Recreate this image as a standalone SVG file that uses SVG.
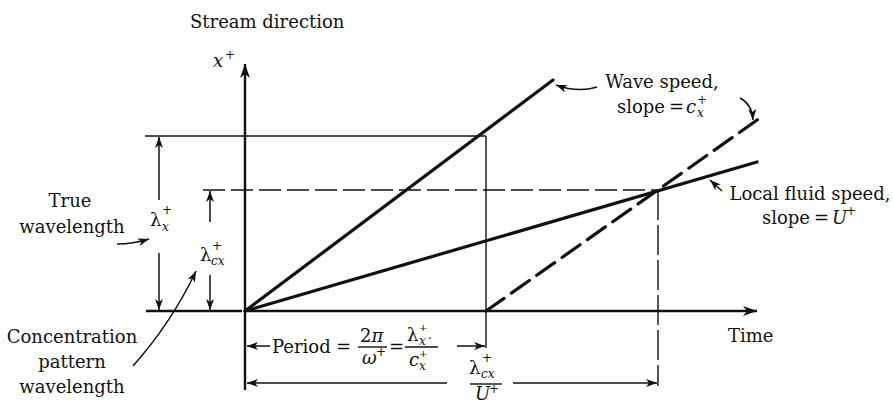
<svg xmlns="http://www.w3.org/2000/svg" width="893" height="400" viewBox="0 0 893 400">
<style>
text{font-family:"DejaVu Serif","Liberation Serif",serif;font-size:18px;fill:#111}
.it{font-style:italic}
.sm{font-size:12px}
.xs{font-size:10px}
.thick{stroke:#111;stroke-width:3.2;fill:none;stroke-linecap:round}
.axis{stroke:#111;stroke-width:2.4;fill:none}
.thin{stroke:#111;stroke-width:1.4;fill:none}
.dim{stroke:#111;stroke-width:1.5;fill:none;marker-end:url(#ah)}
.ptr{stroke:#111;stroke-width:1.5;fill:none;marker-end:url(#ah)}
</style>
<defs>
<marker id="ah" markerUnits="userSpaceOnUse" markerWidth="12" markerHeight="10" refX="11" refY="4" orient="auto">
<path d="M0,0 L11,4 L0,8 L3,4 Z" fill="#111"/>
</marker>
<marker id="axh" markerUnits="userSpaceOnUse" markerWidth="16" markerHeight="12" refX="14" refY="5" orient="auto">
<path d="M0,0 L14,5 L0,10 L4,5 Z" fill="#111"/>
</marker>
</defs>

<g id="axes">
<line x1="245" y1="390" x2="245" y2="64" class="axis" marker-end="url(#axh)"/>
<line x1="146" y1="311" x2="242" y2="311" class="axis" stroke-width="3"/>
<line x1="245" y1="311" x2="757" y2="311" class="axis" marker-end="url(#axh)"/>
</g>

<g id="guides">
<line x1="145" y1="136" x2="486" y2="136" class="thin"/>
<line x1="203" y1="190" x2="658" y2="190" class="thin" stroke-width="1.8" stroke-dasharray="22,6"/>
<line x1="486" y1="136" x2="486" y2="348" class="thin"/>
<line x1="658" y1="190" x2="658" y2="386" class="thin" stroke-dasharray="30,5"/>
</g>

<g id="speed-lines">
<line x1="245" y1="311" x2="553" y2="80" class="thick"/>
<line x1="245" y1="311" x2="757" y2="162" class="thick"/>
<line x1="486" y1="311" x2="760" y2="118" class="thick" stroke-dasharray="22,9" stroke-linecap="butt"/>
</g>

<g id="dimensions">
<line x1="159" y1="200" x2="159" y2="137" class="dim"/>
<line x1="159" y1="253" x2="159" y2="310" class="dim"/>
<line x1="210" y1="222" x2="210" y2="191" class="dim"/>
<line x1="210" y1="275" x2="210" y2="310" class="dim"/>
<line x1="270" y1="346" x2="247" y2="346" class="dim"/>
<line x1="457" y1="346" x2="485" y2="346" class="dim"/>
<line x1="447" y1="383" x2="247" y2="383" class="dim"/>
<line x1="513" y1="383" x2="657" y2="383" class="dim"/>
</g>

<g id="connectors">
<path d="M117,244 Q133,244 149,239" class="ptr"/>
<path d="M133,366 Q172,322 196,271" class="ptr"/>
<path d="M597,87 Q578,93 556,85" class="ptr"/>
<path d="M740,98 Q752,104 753,120" class="ptr"/>
<path d="M722,191 L710,180" class="ptr"/>
</g>

<g id="label-stream">
<text x="190" y="28">Stream direction</text>
</g>
<g id="label-xplus">
<text x="213" y="67" class="it">x</text>
<text x="225" y="59" class="sm">+</text>
</g>
<g id="label-true">
<text x="70" y="207" text-anchor="middle">True</text>
<text x="72" y="233" text-anchor="middle">wavelength</text>
</g>
<g id="label-lx">
<text x="150" y="226">λ</text>
<text x="162" y="214" class="sm">+</text>
<text x="162" y="231" class="sm it">x</text>
</g>
<g id="label-lcx">
<text x="200" y="261">λ</text>
<text x="212" y="250" class="sm">+</text>
<text x="211" y="265" class="sm it">cx</text>
</g>
<g id="label-conc">
<text x="72" y="343" text-anchor="middle">Concentration</text>
<text x="72" y="368" text-anchor="middle">pattern</text>
<text x="72" y="393" text-anchor="middle">wavelength</text>
</g>
<g id="label-period">
<text x="272" y="353">Period</text>
<text x="336" y="353">=</text>
<text x="360" y="342">2<tspan class="it">π</tspan></text>
<line x1="358" y1="347" x2="387" y2="347" class="thin" stroke-width="1.2"/>
<text x="362" y="364" class="it">ω</text>
<text x="376" y="356" class="sm">+</text>
<text x="389" y="353">=</text>
<text x="407" y="341">λ</text>
<text x="419" y="331" class="xs">+</text>
<text x="419" y="345" class="sm it">x</text>
<text x="428" y="343" class="sm">·</text>
<line x1="405" y1="347" x2="438" y2="347" class="thin" stroke-width="1.2"/>
<text x="409" y="366" class="it">c</text>
<text x="419" y="357" class="xs">+</text>
<text x="419" y="370" class="sm it">x</text>
</g>
<g id="label-lcxU">
<text x="469" y="374">λ</text>
<text x="482" y="362" class="sm">+</text>
<text x="481" y="378" class="sm it">cx</text>
<line x1="470" y1="384" x2="502" y2="384" class="thin" stroke-width="1.2"/>
<text x="475" y="400" class="it">U</text>
<text x="489" y="393" class="sm">+</text>
</g>
<g id="label-time">
<text x="728" y="342">Time</text>
</g>
<g id="label-wave">
<text x="662" y="88" text-anchor="middle">Wave speed,</text>
<text x="617" y="113">slope</text>
<text x="669" y="113">=</text>
<text x="686" y="113" class="it">c</text>
<text x="697" y="104" class="sm">+</text>
<text x="697" y="117" class="sm it">x</text>
</g>
<g id="label-local">
<text x="810" y="200" text-anchor="middle">Local fluid speed,</text>
<text x="762" y="224">slope</text>
<text x="814" y="224">=</text>
<text x="832" y="224" class="it">U</text>
<text x="846" y="215" class="sm">+</text>
</g>
</svg>
